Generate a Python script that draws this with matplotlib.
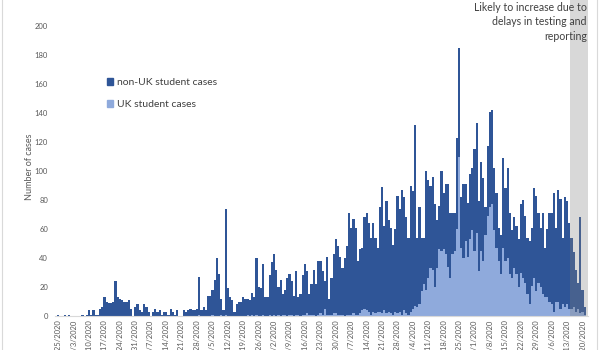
import matplotlib
matplotlib.use("Agg")
import matplotlib.pyplot as plt
from matplotlib.patches import Patch
import numpy as np

plt.rcParams['font.family'] = ['Lato', 'DejaVu Sans']

start_date = "2/25/2020"

non_uk_cases = [
    1, 0, 0, 1, 0, 1, 0, 0, 0, 0,
    0, 1, 0, 1, 4, 1, 4, 1, 1, 5,
    6, 13, 10, 9, 9, 10, 24, 13, 12, 11,
    10, 10, 11, 5, 0, 6, 8, 4, 3, 8,
    6, 3, 0, 3, 5, 3, 4, 1, 3, 3,
    1, 5, 3, 1, 4, 0, 0, 4, 3, 4,
    5, 4, 4, 5, 26, 4, 6, 4, 14, 14,
    17, 25, 40, 29, 11, 4, 73, 19, 13, 11,
    3, 8, 10, 10, 13, 12, 11, 11, 15, 13,
    39, 20, 19, 35, 13, 13, 27, 37, 42, 32,
    19, 25, 14, 17, 26, 28, 23, 14, 30, 12,
    15, 27, 35, 29, 14, 21, 31, 22, 37, 36,
    30, 19, 40, 11, 25, 41, 51, 47, 40, 32,
    40, 47, 70, 60, 65, 60, 37, 44, 43, 63,
    67, 61, 53, 61, 52, 44, 72, 87, 58, 77,
    63, 59, 48, 57, 81, 71, 86, 78, 66, 53,
    87, 81, 125, 48, 67, 37, 32, 82, 68, 57,
    64, 57, 33, 30, 55, 39, 48, 57, 45, 28,
    26, 63, 75, 35, 51, 39, 37, 45, 43, 70,
    76, 48, 61, 57, 19, 48, 66, 65, 43, 38,
    23, 27, 62, 50, 62, 42, 33, 35, 33, 33,
    47, 54, 46, 39, 44, 40, 62, 66, 48, 41,
    56, 34, 47, 61, 63, 82, 51, 77, 76, 46,
    76, 71, 59, 49, 38, 29, 18, 66, 15, 5,
]

uk_cases = [
    0, 0, 0, 0, 0, 0, 0, 0, 0, 0,
    0, 0, 0, 0, 0, 0, 0, 0, 0, 0,
    0, 0, 0, 0, 0, 0, 0, 0, 0, 0,
    0, 0, 0, 0, 0, 0, 0, 0, 0, 0,
    0, 0, 0, 0, 0, 0, 0, 0, 0, 0,
    0, 0, 0, 0, 0, 0, 0, 0, 0, 0,
    0, 0, 0, 0, 1, 0, 0, 0, 0, 0,
    1, 0, 0, 0, 1, 0, 1, 0, 0, 0,
    0, 0, 0, 0, 0, 0, 1, 0, 1, 0,
    1, 0, 0, 1, 0, 0, 1, 0, 1, 0,
    1, 0, 1, 1, 0, 1, 1, 0, 1, 1,
    0, 1, 1, 2, 1, 1, 1, 0, 1, 2,
    1, 5, 1, 1, 1, 2, 2, 1, 1, 1,
    0, 1, 1, 1, 2, 1, 1, 2, 4, 5,
    4, 3, 1, 3, 2, 3, 3, 2, 4, 2,
    3, 2, 1, 3, 2, 3, 1, 4, 2, 1,
    3, 5, 7, 6, 8, 17, 22, 18, 26, 33,
    32, 20, 33, 46, 45, 46, 43, 34, 26, 43,
    45, 60, 110, 47, 40, 52, 41, 53, 59, 45,
    57, 31, 45, 38, 56, 69, 75, 77, 59, 47,
    38, 29, 47, 38, 40, 29, 26, 33, 29, 20,
    30, 26, 23, 15, 8, 21, 26, 17, 23, 20,
    15, 13, 13, 10, 8, 3, 10, 10, 5, 8,
    6, 8, 5, 5, 6, 3, 5, 2, 3, 1,
]

tick_labels = [
    "2/25/2020", "3/3/2020", "3/10/2020", "3/17/2020", "3/24/2020",
    "3/31/2020", "4/7/2020", "4/14/2020", "4/21/2020", "4/28/2020",
    "5/5/2020", "5/12/2020", "5/19/2020", "5/26/2020", "6/2/2020",
    "6/9/2020", "6/16/2020", "6/23/2020", "6/30/2020", "7/7/2020",
    "7/14/2020", "7/21/2020", "7/28/2020", "8/4/2020", "8/11/2020",
    "8/18/2020", "8/25/2020", "9/1/2020", "9/8/2020", "9/15/2020",
    "9/22/2020", "9/29/2020", "10/6/2020", "10/13/2020", "10/20/2020",
]

note_text = "Likely to increase due to\ndelays in testing and\nreporting"

dark = "#2F5597"
light = "#8FAADC"
grey_txt = "#595959"

fig = plt.figure(figsize=(6, 3.5), dpi=100)
ax = fig.add_axes([55 / 600, 34 / 350, 533 / 600, 316 / 350])

days = np.arange(len(uk_cases))
ax.bar(days, uk_cases, width=1.0, color=light, linewidth=0, label="UK student cases")
ax.bar(days, non_uk_cases, bottom=uk_cases, width=1.0, color=dark, linewidth=0,
       label="non-UK student cases")

# shaded period with reporting delay (from 10/15/2020, 233 days after start)
delay_start = 233
ax.axvspan(delay_start - 0.5, len(days) + 0.5, color="#7F7F7F", alpha=0.3, linewidth=0)

ax.set_xlim(-1.5, len(days) + 0.5)
ax.set_ylim(0, 218)
ax.set_yticks(np.arange(0, 201, 20))
ax.set_xticks(np.arange(0, 7 * len(tick_labels), 7))
ax.set_xticklabels(tick_labels, rotation=90)
ax.tick_params(axis="both", length=0, colors=grey_txt, labelsize=5.5)
ax.tick_params(axis="y", pad=5)
ax.tick_params(axis="x", pad=2.5)

for s in ["top", "right", "left"]:
    ax.spines[s].set_visible(False)
ax.spines["bottom"].set_color("#D9D9D9")
ax.spines["bottom"].set_linewidth(0.8)

fig.text(30 / 600, 1 - 167 / 350, "Number of cases", rotation=90, ha="center",
         va="center", fontsize=6.5, color=grey_txt)

handles = [Patch(color=dark, label="non-UK student cases"),
           Patch(color=light, label="UK student cases")]
fig.legend(handles=handles, loc="upper left", bbox_to_anchor=(107 / 600, 1 - 78 / 350),
           frameon=False, fontsize=7.5, handlelength=0.6, handleheight=0.6,
           handletextpad=0.35, labelspacing=1.25, borderpad=0, borderaxespad=0,
           labelcolor="#404040")

fig.text(587 / 600, 1 - 2 / 350, note_text, ha="right", va="top", fontsize=7.6,
         color="#404040", linespacing=1.38)

# chart border lines
fig.add_artist(plt.Line2D([2 / 600, 2 / 600], [0, 1], color="#D9D9D9", lw=0.8))
fig.add_artist(plt.Line2D([597 / 600, 597 / 600], [0, 1], color="#D9D9D9", lw=0.8))

fig.savefig("out.png", dpi=100)
